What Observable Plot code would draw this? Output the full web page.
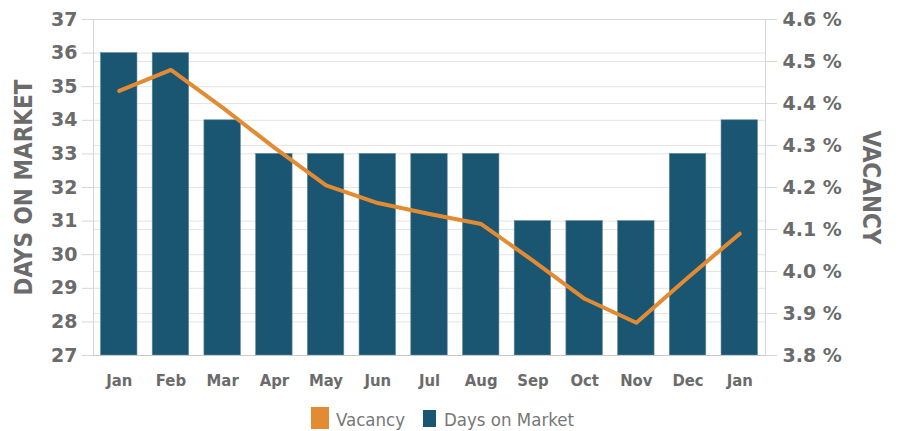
<!DOCTYPE html>
<html>
<head>
<meta charset="utf-8">
<script src="https://cdn.jsdelivr.net/npm/d3@7"></script>
<script src="https://cdn.jsdelivr.net/npm/@observablehq/plot@0.6"></script>
<style>
  body { margin: 0; background: #fff; position: relative; width: 900px; height: 431px; overflow: hidden; }
  #chart svg { display: block; }
  g[aria-label="y-axis tick label"] text { font-family: "DejaVu Sans", sans-serif; font-weight: bold; font-size: 19px; }
  g[aria-label="x-axis tick label"] text { font-family: "DejaVu Sans Condensed", "DejaVu Sans", sans-serif; font-weight: bold; font-size: 16.5px; font-stretch: condensed; }
  g.title text { font-family: "DejaVu Sans Condensed", "DejaVu Sans", sans-serif; font-weight: bold; font-size: 24px; font-stretch: condensed; }
  #legend { position: absolute; left: 0; top: 400px; width: 900px; height: 31px; font-family: "DejaVu Sans Condensed", "DejaVu Sans", sans-serif; font-stretch: condensed; font-size: 18.5px; line-height: normal; color: #777; }
  .sw { position: absolute; }
  .lt { position: absolute; top: 8.5px; white-space: nowrap; }
</style>
</head>
<body>
<div id="chart"></div>
<div id="legend"></div>
<script>
const months = ["Jan","Feb","Mar","Apr","May","Jun","Jul","Aug","Sep","Oct","Nov","Dec","Jan"];
const daysOnMarket = [36,36,34,33,33,33,33,33,31,31,31,33,34];
const vacancy = [4.43,4.48,4.39,4.295,4.205,4.163,4.137,4.113,4.026,3.935,3.878,3.986,4.09];
const daysTicks = [27,28,29,30,31,32,33,34,35,36,37];
const vacancyTicks = [3.8,3.9,4.0,4.1,4.2,4.3,4.4,4.5,4.6];
const seriesNames = ["Vacancy","Days on Market"];
const axisTitles = ["DAYS ON MARKET","VACANCY"];

const barColor = "#1a5672";
const lineColor = "#e38b33";
const textColor = "#6b6b6b";

// map vacancy (right axis) onto the days scale (left axis)
const vac = d3.scaleLinear([vacancyTicks[0], vacancyTicks[vacancyTicks.length-1]], [daysTicks[0], daysTicks[daysTicks.length-1]]);

const data = months.map((m, i) => ({i, month: m, days: daysOnMarket[i], vac: vacancy[i]}));

const chart = Plot.plot({
  width: 900,
  height: 400,
  marginLeft: 93,
  marginRight: 135,
  marginTop: 19,
  marginBottom: 45,
  x: {type: "band", domain: d3.range(months.length), paddingInner: 0.295, paddingOuter: 0.145, round: false},
  y: {domain: [daysTicks[0], daysTicks[daysTicks.length-1]]},
  marks: [
    Plot.gridY(daysTicks, {stroke: "#e4e4e4", strokeOpacity: 1}),
    Plot.gridY(vacancyTicks.map(vac), {stroke: "#e4e4e4", strokeOpacity: 1}),
    Plot.frame({stroke: "#d6d6d6"}),
    Plot.barY(data, {x: "i", y1: () => daysTicks[0], y2: "days", fill: barColor, stroke: "#5f8aa0", strokeWidth: 0.6}),
    Plot.ruleY([daysTicks[0]], {stroke: "#c8c8c8"}),
    Plot.line(data, {x: "i", y: d => vac(d.vac), stroke: lineColor, strokeWidth: 4, strokeLinejoin: "round"}),
    Plot.axisY(daysTicks, {anchor: "left", tickSize: 11, tickPadding: 5, color: textColor, stroke: "#d6d6d6", label: null}),
    Plot.axisY(vacancyTicks.map(vac), {anchor: "right", tickSize: 11, tickPadding: 6, color: textColor, stroke: "#d6d6d6", label: null,
      tickFormat: d => vac.invert(d).toFixed(1) + " %"}),
    Plot.axisX({anchor: "bottom", tickSize: 0, tickPadding: 19, color: textColor, label: null, tickFormat: i => months[i]}),
    Plot.text([axisTitles[0]], {frameAnchor: "left", textAnchor: "middle", rotate: -90, dx: -69, fill: textColor, className: "title"}),
    Plot.text([axisTitles[1]], {frameAnchor: "right", textAnchor: "middle", rotate: 90, dx: 105, fill: textColor, className: "title"})
  ]
});
document.getElementById("chart").appendChild(chart);

const legend = document.getElementById("legend");
legend.innerHTML = `
  <div class="sw" style="left:311px;top:7px;width:18px;height:22px;background:${lineColor}"></div>
  <div class="lt" style="left:336px">${seriesNames[0]}</div>
  <div class="sw" style="left:423px;top:10px;width:13px;height:17px;background:${barColor}"></div>
  <div class="lt" style="left:444px">${seriesNames[1]}</div>`;
</script>
</body>
</html>
